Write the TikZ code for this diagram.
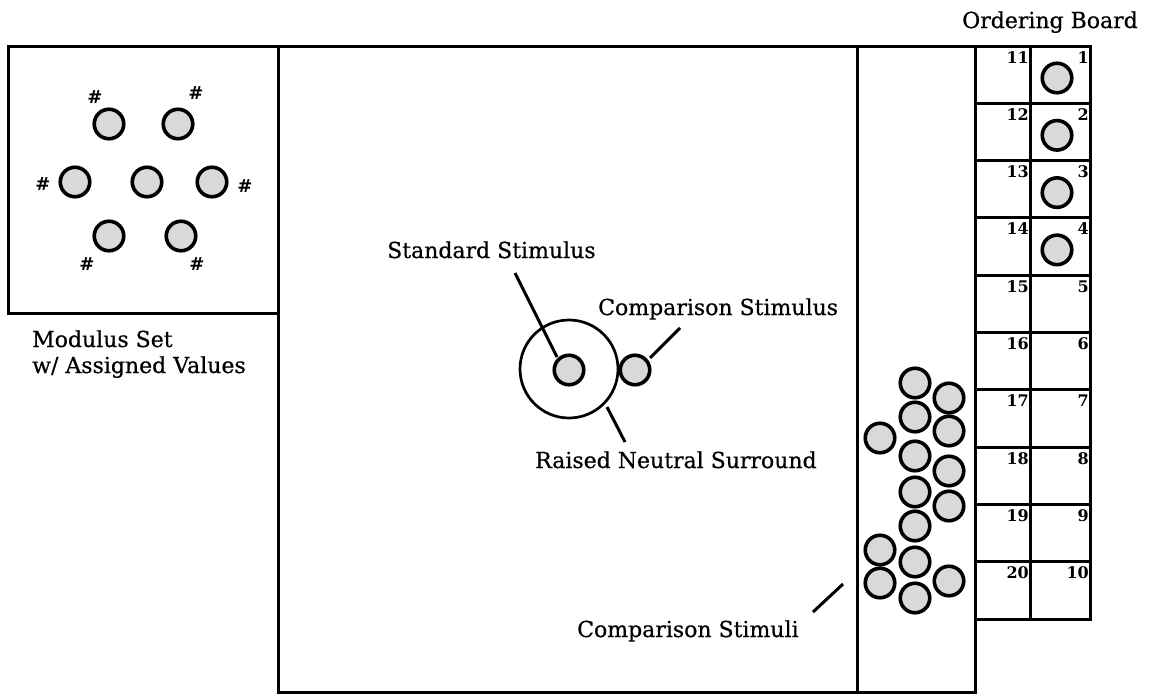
\documentclass[tikz,border=0pt]{standalone}
\usepackage{fontspec}
\setmainfont{DejaVu Serif}
\newfontfamily\lblfont{DejaVu Serif}[FakeBold=0.6]
\begin{document}
\begin{tikzpicture}[x=1pt,y=-1pt,
  frame/.style={line width=3pt, line cap=rect},
  stim/.style={circle, draw, line width=3.6pt, fill=gray!30, minimum size=29.5pt, inner sep=0pt},
  surround/.style={circle, draw, line width=2.7pt, minimum size=98pt, inner sep=0pt},
  lead/.style={line width=3pt},
  lbl/.style={font=\fontsize{22}{26}\lblfont, inner sep=0pt, anchor=base west},
  num/.style={font=\fontsize{16}{18}\selectfont\bfseries, inner sep=0pt, anchor=north east},
  hash/.style={font=\fontsize{18}{20}\selectfont\bfseries, inner sep=0pt}]
\useasboundingbox (0,0) rectangle (1150,696);
\fill[white] (0,0) rectangle (1150,696);

% frames
\draw[frame] (8,46) -- (1090,46);
\draw[frame] (8,46) -- (8,313) -- (278,313);
\draw[frame] (278,46) -- (278,692) -- (975,692) -- (975,46);
\draw[frame] (857,46) -- (857,692);
\draw[frame] (1030,46) -- (1030,619);
\draw[frame] (1090,46) -- (1090,619);
\foreach \r in {0,...,10} {
  \draw[frame] (975,{46+57.3*\r}) -- (1090,{46+57.3*\r});
}
% ordering board numbers
\foreach \r [evaluate=\r as \t using int(\r+10)] in {1,...,10} {
  \node[num] (nl\r) at (1029,{46+57.3*(\r-1)+5}) {\t};
  \node[num] (nr\r) at (1089,{46+57.3*(\r-1)+5}) {\r};
}
% ordering board circles
\foreach \r in {1,...,4} {
  \node[stim] (ob\r) at (1057,{78+57.3*(\r-1)}) {};
}
\node[lbl] (obt) at (962,28) {Ordering Board};

% modulus set
\node[stim] (m1) at (109,124) {};
\node[stim] (m2) at (178,124) {};
\node[stim] (m3) at (75,182) {};
\node[stim] (m4) at (147,182) {};
\node[stim] (m5) at (212,182) {};
\node[stim] (m6) at (109,236) {};
\node[stim] (m7) at (181,236) {};
\node[hash] (h1) at (95,97) {\#};
\node[hash] (h2) at (196,93) {\#};
\node[hash] (h3) at (43,184) {\#};
\node[hash] (h4) at (245,186) {\#};
\node[hash] (h6) at (87,264) {\#};
\node[hash] (h7) at (197,264) {\#};
\node[lbl] (ms1) at (32,347) {Modulus Set};
\node[lbl] (ms2) at (32,373) {w/ Assigned Values};

% central
\node[surround] (sur) at (569,369) {};
\node[stim] (std) at (569,370) {};
\node[stim] (cmp) at (635,370) {};
\node[lbl] (stdl) at (387,258) {Standard Stimulus};
\node[lbl] (cmpl) at (598,315) {Comparison Stimulus};
\node[lbl] (surl) at (535,468) {Raised Neutral Surround};
\coordinate (stdA) at (515,273);
\coordinate (stdB) at (557,357);
\coordinate (cmpA) at (680,328);
\coordinate (cmpB) at (650,358);
\coordinate (surA) at (607,407);
\coordinate (surB) at (625,442);
\draw[lead] (stdA) -- (stdB);
\draw[lead] (cmpA) -- (cmpB);
\draw[lead] (surA) -- (surB);

% comparison stimuli pile
\foreach \i/\x/\y in {1/915/383, 2/949/398, 3/915/417, 4/880/438, 5/949/431,
  6/915/456, 7/949/471, 8/915/492, 9/949/506, 10/915/526, 11/880/550,
  12/915/562, 13/880/583, 14/949/581, 15/915/598} {
  \node[stim] (c\i) at (\x,\y) {};
}
\node[lbl] (csl) at (577,637) {Comparison Stimuli};
\coordinate (csA) at (813,612);
\coordinate (csB) at (843,584);
\draw[lead] (csA) -- (csB);
\end{tikzpicture}
\end{document}
